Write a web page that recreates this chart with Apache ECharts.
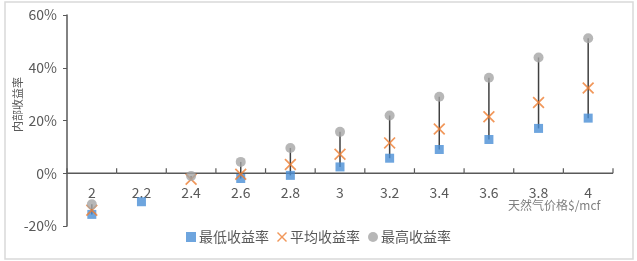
<!DOCTYPE html>
<html>
<head>
<meta charset="utf-8">
<script src="https://cdn.jsdelivr.net/npm/echarts@6/dist/echarts.min.js"></script>
<style>html,body{margin:0;padding:0;background:#fff;}#c{width:637px;height:261px;}</style>
</head>
<body>
<div id="c"></div>
<script>
var categories = ['2','2.2','2.4','2.6','2.8','3','3.2','3.4','3.6','3.8','4'];
var minRate = [-15.6, -10.8, null, -2.0, -0.8, 2.4, 5.7, 9.0, 12.8, 17.0, 20.9];
var avgRate = [-14.0, null, -2.3, -0.4, 3.3, 7.2, 11.5, 16.8, 21.4, 26.8, 32.3];
var maxRate = [-11.8, null, -1.0, 4.3, 9.6, 15.7, 21.9, 29.0, 36.2, 43.9, 51.2];
var seriesNames = ['最低收益率', '平均收益率', '最高收益率'];
var yTicks = [-20, 0, 20, 40, 60];

var rangeData = [];
for (var i = 0; i < categories.length; i++) {
  var lo = minRate[i] != null ? minRate[i] : avgRate[i];
  var hi = maxRate[i];
  if (lo != null && hi != null) rangeData.push([i, lo, hi]);
}
var axisData = [];
for (var j = 0; j < categories.length; j++) axisData.push([j, 0]);

var font = '"Noto Sans CJK SC", "Noto Sans", sans-serif';
var txt = '#595959';
var axisColor = '#595959';
var crossPath = 'path://M0,1L1,0L5,4L9,0L10,1L6,5L10,9L9,10L5,6L1,10L0,9L4,5Z';
var gridTop = 15, gridBottom = 35, H = 261;
var plotH = H - gridTop - gridBottom;
var zeroOffset = -plotH * (0 - yTicks[0]) / (yTicks[yTicks.length - 1] - yTicks[0]);

var chart = echarts.init(document.getElementById('c'), null, {renderer: 'canvas'});
chart.setOption({
  backgroundColor: '#fff',
  animation: false,
  textStyle: {fontFamily: font},
  grid: {left: 67, right: 24, top: gridTop, bottom: gridBottom, containLabel: false},
  legend: {
    data: [
      {name: seriesNames[0], icon: 'rect'},
      {name: seriesNames[1], icon: crossPath},
      {name: seriesNames[2], icon: 'circle'}
    ],
    bottom: 12, left: 'center',
    itemWidth: 10, itemHeight: 10, itemGap: 8,
    textStyle: {color: txt, fontSize: 14, fontFamily: font, padding: [0, 0, 0, -2]}
  },
  graphic: [
    {type: 'rect', shape: {x: 5, y: 2, width: 628, height: 257}, style: {fill: 'none', stroke: '#d9d9d9', lineWidth: 1.5}, silent: true, z: -1},
    {type: 'text', left: 508, top: 199, style: {text: '天然气价格$/mcf', fill: '#7f7f7f', font: '12px ' + font}},
    {type: 'text', x: 12, y: 132, rotation: Math.PI / 2, style: {text: '内部收益率', fill: txt, font: '11px ' + font, verticalAlign: 'top', align: 'left'}}
  ],
  xAxis: {
    type: 'category',
    data: categories,
    boundaryGap: true,
    position: 'bottom',
    offset: zeroOffset,
    axisLine: {show: false, onZero: false},
    axisTick: {show: false},
    axisLabel: {show: true, color: txt, fontSize: 14, margin: 12, fontFamily: font},
    splitLine: {show: false}
  },
  yAxis: {
    type: 'value',
    min: yTicks[0], max: yTicks[yTicks.length - 1], interval: 20,
    axisLine: {show: true, lineStyle: {color: axisColor, width: 1.5}},
    axisTick: {show: true, length: 4, lineStyle: {color: axisColor}},
    axisLabel: {color: txt, fontSize: 14, margin: 10, fontFamily: font, formatter: function (v) { return v + '%'; }},
    splitLine: {show: false}
  },
  series: [
    {
      type: 'custom',
      name: 'zeroAxis',
      data: axisData,
      z: 1,
      silent: true,
      clip: false,
      renderItem: function (params, api) {
        var p = api.coord([api.value(0), api.value(1)]);
        var band = api.size([1, 0])[0];
        var x0 = p[0] - band / 2;
        var y = p[1];
        var children = [
          {type: 'rect', shape: {x: x0, y: y - 0.75, width: band, height: 1.5}, style: {fill: axisColor}},
          {type: 'rect', shape: {x: x0 + band - 0.6, y: y - 5, width: 1.2, height: 5}, style: {fill: axisColor}}
        ];
        if (params.dataIndex === 0) {
          children.push({type: 'rect', shape: {x: x0 - 0.6, y: y - 5, width: 1.2, height: 5}, style: {fill: axisColor}});
        }
        return {type: 'group', children: children};
      }
    },
    {
      type: 'custom',
      name: 'range',
      data: rangeData,
      z: 2,
      silent: true,
      renderItem: function (params, api) {
        var p1 = api.coord([api.value(0), api.value(1)]);
        var p2 = api.coord([api.value(0), api.value(2)]);
        return {type: 'line', shape: {x1: p1[0], y1: p1[1], x2: p2[0], y2: p2[1]}, style: {stroke: '#404040', lineWidth: 1.5}};
      }
    },
    {
      type: 'scatter', name: seriesNames[0], data: minRate, z: 3,
      symbol: 'rect', symbolSize: 9,
      itemStyle: {color: '#4a8fd6'}
    },
    {
      type: 'scatter', name: seriesNames[1], data: avgRate, z: 4,
      symbol: crossPath, symbolSize: 12,
      itemStyle: {color: '#ED7D31'}
    },
    {
      type: 'scatter', name: seriesNames[2], data: maxRate, z: 5,
      symbol: 'circle', symbolSize: 10,
      itemStyle: {color: '#a5a5a5'}
    }
  ]
});
</script>
</body>
</html>
